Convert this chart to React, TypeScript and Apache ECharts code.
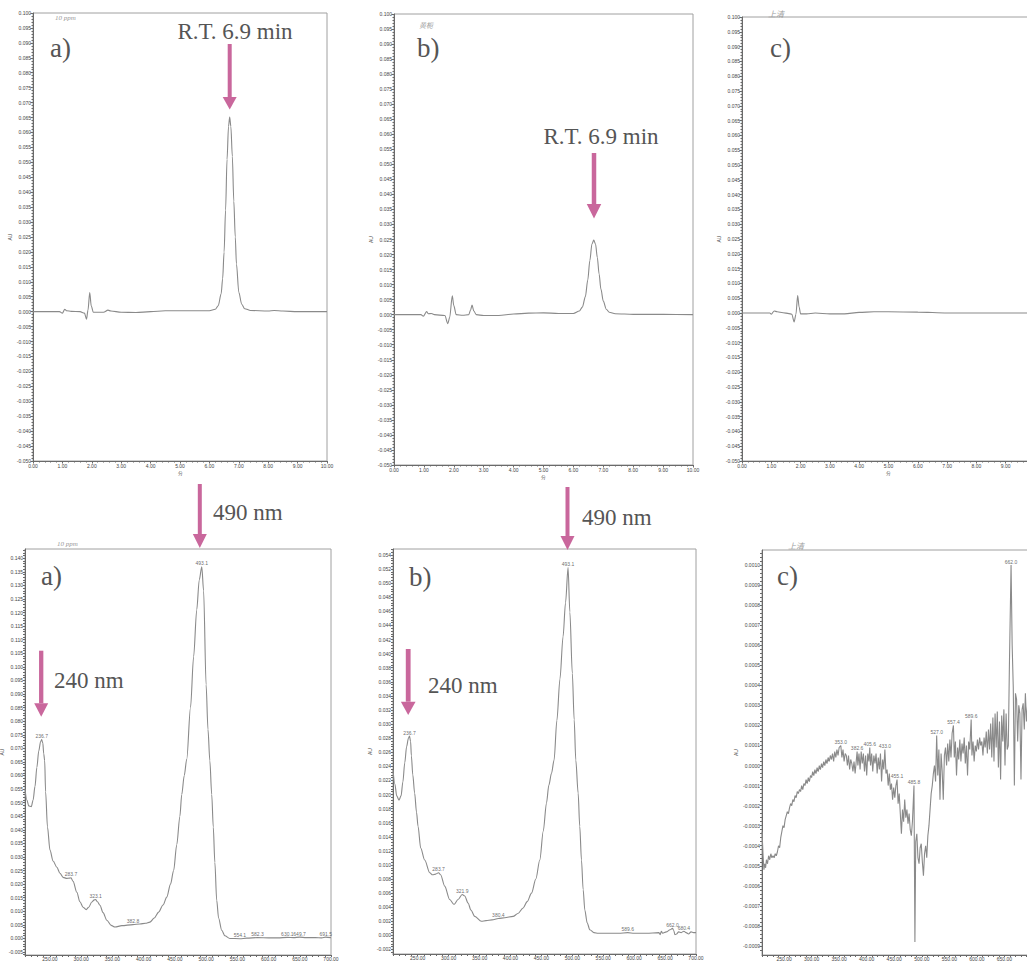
import React, { useEffect, useRef } from "react";
import * as echarts from "echarts";

// ---------- Top row: HPLC chromatograms (time in min, AU) ----------
const TOP_A_TRACE: number[][] = [
  [0, 0], [0.9, 0], [1.0, -0.0005], [1.08, 0.0008], [1.15, 0.0003], [1.3, 0.0001], [1.6, 0],
  [1.75, -0.0005], [1.82, -0.0025], [1.87, 0.0005], [1.93, 0.0064], [1.98, 0.002], [2.05, -0.0002],
  [2.2, -0.0002], [2.4, -0.0002], [2.55, 0.0005], [2.65, 0.0002], [3.0, -0.0002], [3.5, -0.0003],
  [4.0, 0], [4.5, 0.0003], [5.0, 0.0003], [5.5, 0.0003], [6.0, 0.0003], [6.2, 0.0008], [6.3, 0.002],
  [6.4, 0.006], [6.45, 0.011], [6.5, 0.02], [6.55, 0.034], [6.6, 0.051], [6.65, 0.062], [6.69, 0.0652],
  [6.73, 0.062], [6.78, 0.052], [6.83, 0.037], [6.88, 0.025], [6.92, 0.016], [7.0, 0.0065],
  [7.1, 0.0025], [7.2, 0.001], [7.4, 0.0004], [8.0, 0.0002], [8.2, 0.0004], [8.5, 0.0002], [9.0, 0], [10, 0],
];
const TOP_B_TRACE: number[][] = [
  [0, 0], [0.9, 0], [0.98, -0.0005], [1.09, 0.001], [1.15, 0.0003], [1.25, 0.0004], [1.35, 0],
  [1.7, -0.0003], [1.8, -0.003], [1.86, -0.001], [1.95, 0.0063], [2.0, 0.003], [2.08, 0], [2.3, -0.0002],
  [2.5, 0], [2.56, 0.0015], [2.61, 0.0032], [2.67, 0.0012], [2.75, 0], [3.0, -0.0003], [3.5, -0.0003],
  [4.0, 0.0002], [4.5, 0.0005], [5.0, 0.0006], [5.5, 0.0004], [6.0, 0.0004], [6.2, 0.0012], [6.3, 0.0025],
  [6.4, 0.006], [6.48, 0.0115], [6.55, 0.018], [6.62, 0.0235], [6.68, 0.0248], [6.74, 0.0235],
  [6.8, 0.019], [6.86, 0.0135], [6.92, 0.0085], [7.0, 0.0045], [7.1, 0.0018], [7.2, 0.0008],
  [7.4, 0.0003], [8.0, 0.0001], [9.0, 0.0001], [10, 0],
];
const TOP_C_TRACE: number[][] = [
  [0, 0], [0.95, 0], [1.0, -0.0004], [1.1, 0.0007], [1.2, 0.0004], [1.4, 0.0001], [1.6, -0.0002],
  [1.7, -0.0004], [1.78, -0.003], [1.84, -0.0005], [1.9, 0.0059], [1.95, 0.002], [2.0, -0.0003],
  [2.2, -0.0003], [2.5, 0], [3, -0.0003], [3.5, -0.0003], [4.0, 0.0002], [4.5, 0.0004], [5.0, 0.0004],
  [6.0, 0.0003], [7.0, 0], [8.0, 0], [9.0, 0], [10, 0],
];

// ---------- Bottom row: UV-Vis spectra (nm, AU) ----------
const BOT_A_TRACE: number[][] = [
  [210, 0.055], [213, 0.051], [216, 0.0488], [220, 0.0485], [223, 0.051], [226, 0.056], [229, 0.063],
  [232, 0.069], [235, 0.0725], [236.7, 0.0732], [238.5, 0.072], [240, 0.068], [241.5, 0.0655],
  [243, 0.054], [246, 0.041], [250, 0.0325], [255, 0.0285], [261, 0.0262], [266, 0.024], [271, 0.0225],
  [277, 0.0221], [281, 0.0222], [283.7, 0.0223], [287, 0.021], [293, 0.017], [298, 0.0135],
  [303, 0.0115], [308, 0.0106], [312, 0.0115], [317, 0.0134], [321, 0.0142], [323.1, 0.0143],
  [326, 0.0135], [330, 0.0122], [335, 0.0095], [341, 0.0067], [348, 0.0048], [354, 0.0042],
  [365, 0.0047], [382.8, 0.0051], [394, 0.0053], [403, 0.0056], [410, 0.006], [417, 0.0075],
  [424, 0.0097], [431, 0.0123], [437, 0.0152], [443, 0.02], [448, 0.025], [453, 0.0345], [458, 0.045],
  [461, 0.053], [465, 0.06], [469, 0.066], [475, 0.085], [480, 0.1037], [485, 0.121], [489, 0.132],
  [493.1, 0.1368], [496, 0.128], [500, 0.0934], [503, 0.077], [506, 0.0654], [509, 0.053],
  [511.5, 0.041], [514, 0.028], [517, 0.014], [520, 0.0075], [525, 0.003], [530, 0.001], [538, 0.0],
  [554.1, -0.0001], [565, 0.0001], [582.3, 0.0003], [600, 0.0002], [615, 0.0002], [630.1, 0.0004],
  [640, 0.0003], [649.7, 0.0005], [660, 0.0003], [675, 0.0003], [685, 0.0002], [691.5, 0.0005], [700, 0.0003],
];
const BOT_B_TRACE: number[][] = [
  [210, 0.0235], [213, 0.0215], [216, 0.0198], [219.7, 0.0192], [223, 0.0198], [226, 0.0218],
  [229, 0.0245], [232, 0.0268], [235, 0.028], [236.7, 0.0283], [238.5, 0.0275], [239.7, 0.0255],
  [242, 0.0228], [245, 0.0202], [248, 0.0175], [250.5, 0.0155], [254.8, 0.0124], [261.3, 0.0107],
  [269.4, 0.0089], [274, 0.0086], [279, 0.0087], [283.7, 0.0089], [287, 0.0086], [293.6, 0.007],
  [301.7, 0.0051], [308.7, 0.0044], [315.2, 0.0051], [321.9, 0.0058], [326, 0.0056], [331.4, 0.0046],
  [336, 0.0036], [342.2, 0.0027], [353, 0.002], [360.4, 0.0021], [370, 0.0022], [380.4, 0.0024],
  [390.7, 0.0025], [404.2, 0.0027], [412, 0.0031], [420.4, 0.0039], [427, 0.0048], [434, 0.006],
  [441, 0.008], [447.4, 0.0107], [453, 0.0148], [458.2, 0.0188], [462, 0.0213], [466.3, 0.023],
  [470.5, 0.0249], [475, 0.0305], [480, 0.0364], [485, 0.0424], [489, 0.0472], [493.1, 0.0522],
  [496, 0.0459], [500, 0.0372], [503, 0.0306], [505.6, 0.0249], [509.4, 0.0202], [512, 0.0155],
  [514.8, 0.0107], [517.5, 0.0065], [520.2, 0.0036], [524, 0.0018], [528.3, 0.0008], [535, 0.0004],
  [541.8, 0.0003], [560, 0.0003], [575, 0.0003], [589.6, 0.0004], [600, 0.0003], [620, 0.0003],
  [640, 0.0004], [642, 0.0001], [644, 0.0006], [646, 0.0003], [652, 0.0005], [658, 0.0008],
  [662, 0.001], [664, 0.0007], [666, 0.0001], [668.6, 0.0002], [672, 0.0005], [676, 0.0004],
  [680.4, 0.0006], [684, 0.0004], [688, 0.0002], [692, 0.0005], [696, 0.0004], [700, 0.0004],
];
const BOT_C_TRACE: number[][] = [
  [210, -0.00033], [212, -0.00045], [213.5, -0.00052], [215, -0.00049], [216.5, -0.00051], [218, -0.00047],
  [220, -0.00049], [222, -0.00045], [224, -0.00047], [226, -0.00044], [228, -0.00046], [230, -0.00045],
  [232, -0.00046], [234, -0.00044], [236, -0.00045], [238, -0.00043], [240, -0.0004], [242, -0.00041],
  [244, -0.00036], [246, -0.00033], [248, -0.0003], [250, -0.00031], [252, -0.00027], [254, -0.00025],
  [256, -0.00023], [258, -0.00024], [260, -0.00021], [262, -0.00019], [264, -0.0002], [266, -0.00017],
  [268, -0.00018], [270, -0.00015], [272, -0.00016], [274, -0.00013], [276, -0.00014], [278, -0.00012],
  [280, -0.00013], [282, -0.0001], [284, -0.00012], [286, -0.00009], [288, -0.0001], [290, -0.00007],
  [292, -0.00009], [294, -0.00006], [296, -0.00008], [298, -0.00005], [300, -0.00006], [302, -0.00003],
  [304, -0.00005], [306, -0.00002], [308, -0.00004], [310, -0.00001], [312, -0.00003], [314, 0.0],
  [316, -0.00002], [318, 0.00001], [320, -0.00001], [322, 0.00002], [324, 0.0], [326, 0.00003],
  [328, 0.00001], [330, 0.00004], [332, 0.00002], [334, 0.00005], [336, 0.00003], [338, 0.00006],
  [340, 0.00002], [342, 0.00007], [344, 0.00004], [346, 0.00008], [348, 0.00005], [350, 0.00009],
  [353, 0.0001], [355, 0.00004], [357, 0.00008], [359, 0.00002], [361, 0.00006], [363, 0.00005],
  [365, 0.0], [367, 0.00005], [369, -0.00002], [371, 0.00003], [373, 0.00001], [375, -0.00003],
  [377, 0.00002], [379, -0.00004], [382.6, 0.00007], [384, 0.0], [386, 0.00006], [388, -0.00002],
  [390, 0.00007], [392, 0.00001], [394, 0.00006], [396, -0.00003], [398, 0.00005], [400, -0.00005],
  [402, 0.00006], [404, 0.00002], [405.6, 0.00009], [407, 0.0], [409, 0.00006], [411, -0.00003],
  [413, 0.00005], [415, 0.00001], [417, 0.00006], [419, -0.00004], [421, 0.00004], [423, -0.00002],
  [425, 0.00006], [427, -0.00008], [429, 0.00003], [431, -0.00002], [433, 0.00008], [435, -0.00004],
  [437, -0.00002], [439, -0.0001], [441, -0.00004], [443, -0.00012], [445, -0.00009], [447, -0.00017],
  [449, -0.00011], [451, -0.00016], [453, -0.0001], [455.1, -0.00007], [457, -0.00019], [459, -0.00014],
  [461, -0.00024], [463, -0.00034], [465, -0.00022], [467, -0.00028], [469, -0.00017], [471, -0.00026],
  [473, -0.00022], [475, -0.00029], [477, -0.00024], [479, -0.00032], [481, -0.00035], [483, -0.00028],
  [485.8, -0.0001], [487.5, -0.00088], [489, -0.00038], [491, -0.00034], [493, -0.00046], [495, -0.00049],
  [497, -0.00041], [499, -0.00039], [501, -0.00048], [503, -0.00055], [505, -0.00044], [507, -0.0004],
  [509, -0.00046], [511, -0.00035], [513, -0.0003], [515, -0.00022], [517, -0.00014], [519, -0.0001],
  [521, -0.00004], [523, 0.0], [525, -0.00008], [527, 0.00015], [529, -0.00005], [531, 0.00008],
  [533, -0.00017], [535, 0.00006], [537, -0.00003], [539, -0.00017], [541, 0.00005], [543, 0.00009],
  [545, 0.0], [547, 0.00011], [549, 0.00002], [551, 0.00013], [553, 0.00004], [555, 0.00016],
  [557.4, 0.0002], [559, 0.00004], [561, 0.00012], [563, -0.00005], [565, 0.00009], [567, 0.00003],
  [569, 0.00013], [571, 0.00002], [573, 0.00011], [575, 0.00006], [577, 0.00014], [579, 0.00001],
  [581, 0.0001], [583, -0.00005], [585, 0.00012], [587, 0.00008], [589.6, 0.00023], [591, 0.00005],
  [593, 0.00012], [595, 0.00002], [597, 0.0001], [599, 0.00007], [601, 0.00013], [603, 0.00008],
  [605, 0.00014], [607, 0.0001], [609, 0.00012], [611, 0.00005], [613, 0.00014], [615, 0.00009],
  [617, 0.00017], [619, 0.00006], [621, 0.00018], [623, 0.00008], [625, 0.00021], [627, 0.00004],
  [629, 0.00024], [631, 0.00002], [633, 0.00026], [635, 0.00009], [637, 0.00027], [639, -0.00001],
  [641, 0.00022], [643, -0.00007], [645, 0.00025], [647, 0.00012], [649, 0.00028], [651, 0.0],
  [653, 0.00026], [655, 0.00008], [657, 0.0001], [659, 0.0005], [662, 0.001], [664, 0.0006],
  [666, 0.00039], [668, -0.0001], [670, 0.00036], [672, 0.00033], [674, 0.00012], [676, 0.0003],
  [678, 0.00026], [680, -0.00007], [682, 0.00028], [684, 0.00031], [686, 0.00018], [688, 0.00036],
  [690, 0.00022], [692, 0.0003], [694, 0.00015], [696, 0.0003], [698, 0.0002], [700, 0.00025],
];

// ---------- Peak labels ----------
const BOT_A_PEAK_NM = [236.7, 283.7, 323.1, 382.8, 493.1, 554.1, 582.3, 630.1, 649.7, 691.5];
const BOT_A_PEAK_AU = [0.0732, 0.0223, 0.0143, 0.0051, 0.1368, -0.0001, 0.0003, 0.0004, 0.0005, 0.0005];
const BOT_B_PEAK_NM = [236.7, 283.7, 321.9, 380.4, 493.1, 589.6, 662.0, 680.4];
const BOT_B_PEAK_AU = [0.0283, 0.0089, 0.0058, 0.0024, 0.0522, 0.0004, 0.001, 0.0006];
const BOT_C_PEAK_NM = [353.0, 382.6, 405.6, 433.0, 455.1, 485.8, 527.0, 557.4, 589.6, 662.0];
const BOT_C_PEAK_AU = [0.0001, 0.00007, 0.00009, 0.00008, -0.00007, -0.0001, 0.00015, 0.0002, 0.00023, 0.001];

// ---------- Tick labels ----------
const BOT_A_YTICKS = [-0.005, 0, 0.005, 0.01, 0.015, 0.02, 0.025, 0.03, 0.035, 0.04, 0.045, 0.05, 0.055, 0.06,
  0.065, 0.07, 0.075, 0.08, 0.085, 0.09, 0.095, 0.1, 0.105, 0.11, 0.115, 0.12, 0.125, 0.13, 0.135, 0.14];
const BOT_B_YTICKS = [-0.002, 0, 0.002, 0.004, 0.006, 0.008, 0.01, 0.012, 0.014, 0.016, 0.018, 0.02, 0.022,
  0.024, 0.026, 0.028, 0.03, 0.032, 0.034, 0.036, 0.038, 0.04, 0.042, 0.044, 0.046, 0.048, 0.05, 0.052, 0.054];
const BOT_C_YTICKS = [-0.0009, -0.0008, -0.0007, -0.0006, -0.0005, -0.0004, -0.0003, -0.0002, -0.0001, 0,
  0.0001, 0.0002, 0.0003, 0.0004, 0.0005, 0.0006, 0.0007, 0.0008, 0.0009, 0.001];
const WAVE_TICKS = [250, 300, 350, 400, 450, 500, 550, 600, 650, 700];
const WAVE_TICKS_C = [250, 300, 350, 400, 450, 500, 550, 600, 650];

const LINE = "#8a8a8a";
const AXIS = "#6a6a6a";
const FRAME = "#a0a0a0";
const TXT = "#555555";
const PINK = "#c9679c";
const SERIF = '"Liberation Serif", "DejaVu Serif", serif';

function fineTicks(a: number, b: number, step: number): number[] {
  const out: number[] = [];
  const n = Math.floor((b - a) / step + 1e-6);
  for (let i = 0; i <= n; i++) out.push(+(a + i * step).toFixed(6));
  return out;
}

const fmt = (d: number) => (v: number) => (Math.abs(v) < 1e-12 ? 0 : v).toFixed(d);

function topX(gridIndex: number, showMax: boolean) {
  return {
    type: "value", gridIndex, min: 0, max: 10, interval: 1,
    axisLine: { show: true, onZero: false, lineStyle: { color: AXIS, width: 1 } },
    axisTick: { show: true, length: 2.5, lineStyle: { color: AXIS } },
    minorTick: { show: true, splitNumber: 5, length: 1.5, lineStyle: { color: AXIS } },
    splitLine: { show: false },
    axisLabel: { fontSize: 5, color: "#444", margin: 2, formatter: fmt(2), showMaxLabel: showMax },
    name: "分", nameLocation: "middle", nameGap: 9, nameTextStyle: { fontSize: 5, color: "#444" },
  };
}
function topY(gridIndex: number) {
  return {
    type: "value", gridIndex, min: -0.05, max: 0.1, interval: 0.005,
    axisLine: { show: true, onZero: false, lineStyle: { color: AXIS, width: 1 } },
    axisTick: { show: true, length: 2.5, lineStyle: { color: AXIS } },
    minorTick: { show: true, splitNumber: 5, length: 1.5, lineStyle: { color: AXIS } },
    splitLine: { show: false },
    axisLabel: { fontSize: 5, color: "#444", margin: 2, formatter: fmt(3) },
    name: "AU", nameLocation: "middle", nameGap: 21, nameTextStyle: { fontSize: 5, color: "#444" },
  };
}
function botX(gridIndex: number, labels: number[]) {
  return {
    type: "value", gridIndex, min: 210, max: 700,
    axisLine: { show: true, onZero: false, lineStyle: { color: AXIS, width: 1 } },
    axisTick: { show: true, length: 2, customValues: fineTicks(210, 700, 10), lineStyle: { color: AXIS } },
    splitLine: { show: false },
    axisLabel: { fontSize: 5, color: "#444", margin: 1, customValues: labels, formatter: fmt(2) },
  };
}
function botY(gridIndex: number, min: number, max: number, labels: number[], step: number, dec: number, gap: number) {
  return {
    type: "value", gridIndex, min, max,
    axisLine: { show: true, onZero: false, lineStyle: { color: AXIS, width: 1 } },
    axisTick: { show: true, length: 2, customValues: fineTicks(labels[0] - step, max, step), lineStyle: { color: AXIS } },
    splitLine: { show: false },
    axisLabel: { fontSize: 5, color: "#444", margin: 2, customValues: labels, formatter: fmt(dec) },
    name: "AU", nameLocation: "middle", nameGap: gap, nameTextStyle: { fontSize: 5, color: "#444" },
  };
}

function trace(i: number, data: number[][], smooth: boolean) {
  return {
    type: "line", xAxisIndex: i, yAxisIndex: i, data, symbol: "none",
    smooth: smooth ? 0.3 : false, smoothMonotone: "x",
    lineStyle: { color: LINE, width: 1.1 }, silent: true, z: 3,
  };
}
function peaks(i: number, nm: number[], au: number[]) {
  return {
    type: "scatter", xAxisIndex: i, yAxisIndex: i, symbolSize: 0, silent: true,
    data: nm.map((x, k) => [x, au[k]]),
    label: {
      show: true, position: "top", distance: 1, fontSize: 5, color: "#444",
      formatter: (p: any) => p.value[0].toFixed(1),
    },
    z: 4,
  };
}

function arrow(x: number, yTop: number, yHead: number, yTip: number, sw: number, hw: number) {
  return [
    { type: "rect", shape: { x: x - sw / 2, y: yTop, width: sw, height: yHead - yTop }, style: { fill: PINK }, z: 10 },
    { type: "polygon", shape: { points: [[x - hw / 2, yHead], [x + hw / 2, yHead], [x, yTip]] }, style: { fill: PINK }, z: 10 },
  ];
}
function label(text: string, x: number, y: number, size: number, align: string) {
  return {
    type: "text", x, y, z: 10,
    style: { text, font: `${size}px ${SERIF}`, fill: TXT, align, textAlign: align, verticalAlign: "middle", textVerticalAlign: "middle" },
  };
}
function note(text: string, x: number, y: number, size: number, family: string) {
  return {
    type: "text", x, y, z: 10,
    style: { text, font: `italic ${size}px ${family}`, fill: "#9a9a9a", align: "left", textAlign: "left", verticalAlign: "middle", textVerticalAlign: "middle" },
  };
}

export default function App() {
  const ref = useRef<HTMLDivElement>(null);
  useEffect(() => {
    document.body.style.margin = "0";
    const chart = echarts.init(ref.current!, null, { renderer: "svg" });
    const gridBase = {
      show: true, borderColor: FRAME, borderWidth: 1, backgroundColor: "transparent",
      containLabel: false, outerBoundsMode: "none",
    };
    const option: any = {
      animation: false,
      backgroundColor: "#ffffff",
      grid: [
        { ...gridBase, left: 33, top: 13, width: 294, height: 448 },
        { ...gridBase, left: 394, top: 14, width: 299, height: 451 },
        { ...gridBase, left: 742, top: 17, width: 293, height: 444 },
        { ...gridBase, left: 25, top: 549, width: 306, height: 406 },
        { ...gridBase, left: 393, top: 549, width: 303, height: 405 },
        { ...gridBase, left: 762, top: 550, width: 270, height: 405 },
      ],
      xAxis: [topX(0, true), topX(1, true), topX(2, false), botX(3, WAVE_TICKS), botX(4, WAVE_TICKS), botX(5, WAVE_TICKS_C)],
      yAxis: [
        topY(0), topY(1), topY(2),
        botY(3, -0.0061, 0.1434, BOT_A_YTICKS, 0.001, 3, 18),
        botY(4, -0.00264, 0.05485, BOT_B_YTICKS, 0.0004, 3, 20),
        botY(5, -0.000945, 0.001075, BOT_C_YTICKS, 0.00002, 4, 24),
      ],
      series: [
        trace(0, TOP_A_TRACE, true),
        trace(1, TOP_B_TRACE, true),
        trace(2, TOP_C_TRACE, true),
        trace(3, BOT_A_TRACE, true),
        trace(4, BOT_B_TRACE, true),
        trace(5, BOT_C_TRACE, false),
        peaks(3, BOT_A_PEAK_NM, BOT_A_PEAK_AU),
        peaks(4, BOT_B_PEAK_NM, BOT_B_PEAK_AU),
        peaks(5, BOT_C_PEAK_NM, BOT_C_PEAK_AU),
      ],
      graphic: [
        ...arrow(229.7, 44, 97, 109.5, 4, 14),
        ...arrow(594, 153, 204, 218.5, 4.5, 14.5),
        ...arrow(199.8, 484, 534, 548, 4, 14),
        ...arrow(567.5, 487, 536, 550, 4, 14),
        ...arrow(41.2, 650.7, 703.3, 716.7, 4.3, 14),
        ...arrow(408.2, 649, 701.7, 715, 4.8, 14.7),
        label("R.T. 6.9 min", 235, 31, 23, "center"),
        label("R.T. 6.9 min", 601, 136, 23, "center"),
        label("490 nm", 213, 512, 23, "left"),
        label("490 nm", 582, 517, 23, "left"),
        label("240 nm", 54, 680, 23, "left"),
        label("240 nm", 428, 685, 23, "left"),
        label("a)", 50, 48, 27, "left"),
        label("b)", 417, 48, 27, "left"),
        label("c)", 770, 48, 27, "left"),
        label("a)", 41, 576, 27, "left"),
        label("b)", 409, 577, 27, "left"),
        label("c)", 777, 576, 27, "left"),
        note("10 ppm", 55, 18, 7, SERIF),
        note("10 ppm", 57, 544, 7, SERIF),
        note("黄栀", 419, 25, 7, '"Noto Sans CJK SC", sans-serif'),
        note("上清", 768, 13, 8, '"Noto Sans CJK SC", sans-serif'),
        note("上清", 788, 545, 8, '"Noto Sans CJK SC", sans-serif'),
      ],
    };
    chart.setOption(option);
    return () => chart.dispose();
  }, []);
  return <div ref={ref} style={{ width: 1027, height: 962 }} />;
}
